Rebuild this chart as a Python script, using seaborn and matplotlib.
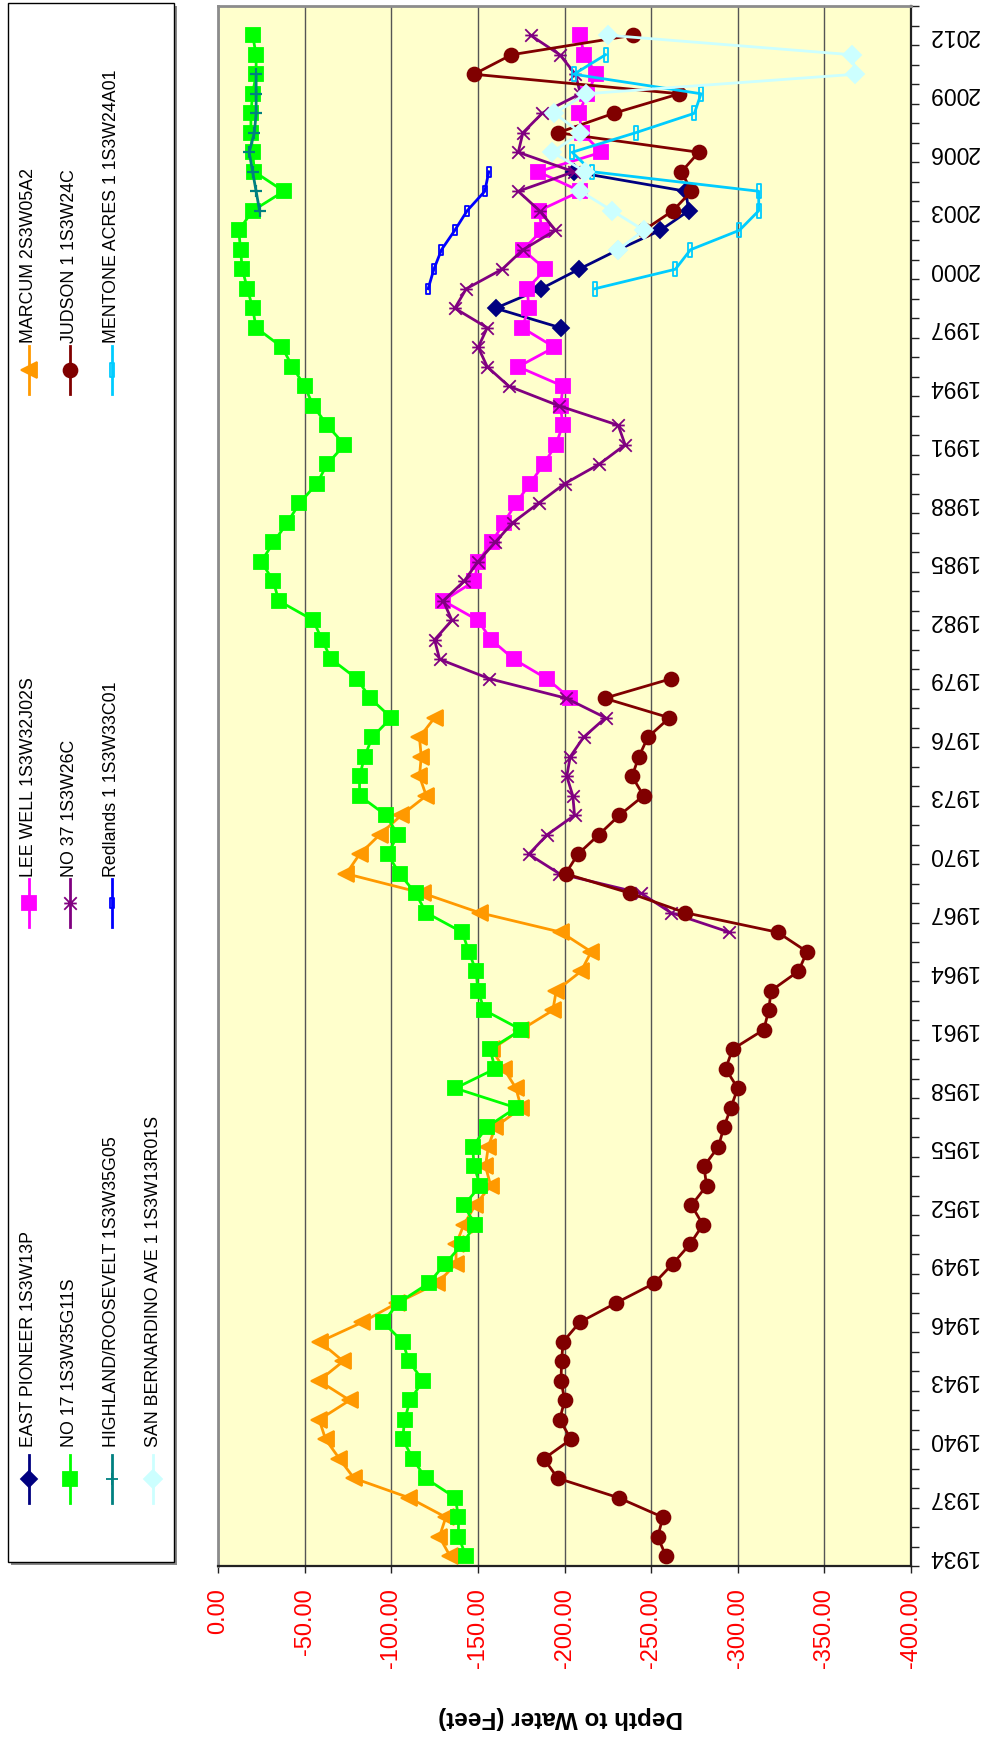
import numpy as np
import pandas as pd
import matplotlib
matplotlib.use("Agg")
import matplotlib.pyplot as plt
from matplotlib.path import Path
from matplotlib.patches import Rectangle
from matplotlib.lines import Line2D
import seaborn as sns

# ---------------- data (depth to water, feet; one value per year) ----------------
YEAR_TICKS = list(range(1934, 2013, 3))
DEPTH_TICKS = [0, -50, -100, -150, -200, -250, -300, -350, -400]

EAST_PIONEER_YEARS = list(range(1997, 2006))
EAST_PIONEER = [-197.7, -160.2, -186.5, -208.3, -231.0, -255.4, -271.7, -270.0, -205.4]

LEE_WELL_YEARS = list(range(1978, 2013))
LEE_WELL = [-203.3, -189.8, -170.8, -157.7, -150, -130, -148, -150, -158, -165,
            -172, -180, -188, -195, -199, -197.7, -199.2, -173.3, -194.2, -175.6,
            -179.4, -178.5, -189.0, -176.0, -187.1, -185.2, -209.2, -184.8, -221.3, -210.2,
            -208.3, -213.1, -218.3, -211.5, -208.7]

MARCUM_YEARS = list(range(1934, 1978))
MARCUM = [-134.0, -127.8, -131.5, -110.3, -78.5, -70.1, -62.1, -58.4, -76.0, -58.3,
          -72.3, -58.8, -83.3, -103.6, -126.6, -137.4, -137.4, -141.9, -148.4, -157.4,
          -154.4, -156, -160, -175, -172, -165, -158, -175, -193.3, -195.2,
          -209.6, -215.4, -198.1, -151.0, -118.3, -74.0, -81.7, -93.3, -105.8, -120.2,
          -116.3, -117.3, -116.3, -125.0]

NO17_YEARS = list(range(1934, 2013))
NO17 = [-143.2, -138.8, -138.8, -137.0, -119.8, -112.5, -106.6, -107.7, -110.9, -118.3,
        -110.2, -106.6, -95.3, -104.2, -121.6, -131.1, -141.0, -148.4, -141.9, -151.4,
        -147.8, -147, -155, -172, -137, -160, -157, -175, -153.8, -150.0,
        -149.0, -144.8, -141.0, -120.2, -114.0, -104.8, -98.0, -103.8, -97.0, -81.7,
        -81.7, -84.6, -89.0, -100.0, -87.9, -80.2, -65.4, -60, -55, -35,
        -32, -25, -32, -40, -47, -57, -63, -73, -63, -55,
        -50, -43, -37, -22, -20, -17, -14, -13, -12, -20,
        -38, -21, -20, -19, -19, -20, -22, -22, -20]

NO37_YEARS = list(range(1966, 2013))
NO37 = [-295.2, -261.5, -244.2, -197.1, -179.4, -190.0, -205.8, -204.8, -201.3, -203.3,
        -211.0, -223.7, -201.0, -156.7, -127.9, -125.0, -135, -130, -142, -150,
        -160, -170, -185, -200, -220, -235, -231, -196.7, -167.9, -155.4,
        -150.2, -155.4, -136.7, -143.3, -164.0, -176.0, -194.8, -185.6, -173.3, -205.4,
        -173.3, -176.0, -187.1, -209.2, -206.3, -197.3, -180.4]

JUDSON_YEARS = list(range(1934, 1980)) + list(range(2002, 2013))
JUDSON = [-258.6, -253.8, -256.8, -231.2, -196.1, -188.1, -203.8, -197.2, -200.1, -198.0,
          -198.3, -199.2, -208.8, -230.0, -251.8, -262.5, -272.4, -279.9, -273.3, -282.0,
          -280.5, -288.8, -292, -296, -300, -293, -297, -315, -317.9, -319.2,
          -335, -340, -323, -269.8, -237.9, -200.6, -207.7, -219.8, -231.7, -245.6,
          -239.0, -242.9, -248.1, -260.6, -223.1, -261.5,
          -245.8, -262.5, -273.3, -267.5, -277.5, -196.3, -228.5, -266.3, -147.7, -169.4,
          -239.4]

HIGHLAND_YEARS = list(range(2003, 2011))
HIGHLAND = [-24, -22, -20, -18, -21, -22, -22, -22]

REDLANDS_YEARS = list(range(1999, 2006))
REDLANDS = [-121.3, -124.6, -129.0, -136.7, -143.8, -154.0, -156.3]

MENTONE_YEARS = list(range(1999, 2012))
MENTONE = [-217.5, -264.0, -272.7, -301.0, -312.1, -312.1, -216.0, -204.4, -241.0, -275.0,
           -278.8, -205.4, -223.7]

SAN_BERN_YEARS = list(range(2001, 2013))
SAN_BERN = [-231.0, -245.8, -227.5, -209.2, -212.1, -192.9, -209.2, -194.2, -212.5, -367.9,
            -366.0, -225.2]

# ---------------- styling ----------------
plt.rcParams['font.family'] = ['Liberation Sans', 'DejaVu Sans']

ASTER = Path([(-1, -1), (1, 1), (-1, 1), (1, -1), (-1, 0), (1, 0)],
             [Path.MOVETO, Path.LINETO, Path.MOVETO, Path.LINETO, Path.MOVETO, Path.LINETO])
BAR = Path([(-0.32, -1), (0.32, -1), (0.32, 1), (-0.32, 1), (-0.32, -1)],
           [Path.MOVETO, Path.LINETO, Path.LINETO, Path.LINETO, Path.CLOSEPOLY])

series = [
    # name, years, values, color, marker, size, facecolor
    ("EAST PIONEER 1S3W13P", EAST_PIONEER_YEARS, EAST_PIONEER, "#000080", "D", 8.5, None),
    ("LEE WELL 1S3W32J02S", LEE_WELL_YEARS, LEE_WELL, "#FF00FF", "s", 10.5, None),
    ("MARCUM 2S3W05A2", MARCUM_YEARS, MARCUM, "#FF9900", "<", 11, None),
    ("NO 17 1S3W35G11S", NO17_YEARS, NO17, "#00FF00", "s", 10, None),
    ("NO 37 1S3W26C", NO37_YEARS, NO37, "#800080", ASTER, 9, None),
    ("JUDSON 1 1S3W24C", JUDSON_YEARS, JUDSON, "#800000", "o", 10, None),
    ("HIGHLAND/ROOSEVELT 1S3W35G05", HIGHLAND_YEARS, HIGHLAND, "#008080", "+", 8, None),
    ("Redlands 1 1S3W33C01", REDLANDS_YEARS, REDLANDS, "#0000FF", BAR, 7, "none"),
    ("MENTONE ACRES 1 1S3W24A01", MENTONE_YEARS, MENTONE, "#00CCFF", BAR, 10, "none"),
    ("SAN BERNARDINO AVE 1 1S3W13R01S", SAN_BERN_YEARS, SAN_BERN, "#CCFFFF", "D", 9, None),
]


def to_frame(years, vals):
    yrs = np.array(years)
    seg = np.concatenate([[0], np.cumsum(np.diff(yrs) > 1)])
    return pd.DataFrame({"year": yrs, "depth": np.array(vals, dtype=float), "seg": seg})


W, H = 992, 1738
fig = plt.figure(figsize=(W / 100, H / 100), dpi=100)
fig.patch.set_facecolor("white")

L, R, T, B = 218, 911, 6, 1566
ax = fig.add_axes([L / W, 1 - B / H, (R - L) / W, (B - T) / H])
ax.set_facecolor("#FFFFCC")

for name, yrs, vals, col, mk, ms, fc in series:
    df = to_frame(yrs, vals)
    kw = dict(markeredgecolor=col, markeredgewidth=1.3)
    kw["markerfacecolor"] = col if fc is None else fc
    if mk == "+":
        kw["markeredgewidth"] = 1.6
    sns.lineplot(data=df, x="depth", y="year", units="seg", estimator=None,
                 orient="y", sort=True, color=col, marker=mk, markersize=ms,
                 linewidth=2.0, ax=ax, legend=False, **kw)

ax.set_xlim(0, -400)
ax.set_ylim(1933.5, 2013.5)
ax.set_xlabel("")
ax.set_ylabel("")

ax.set_xticks(DEPTH_TICKS)
ax.set_xticklabels([f"{v:.2f}" for v in DEPTH_TICKS], rotation=90, color="red",
                   fontsize=17)
ax.tick_params(axis="x", direction="out", length=5, width=1.0, color="#222222", pad=11)
ax.grid(axis="x", color="#555555", linewidth=1.0)
ax.grid(axis="y", visible=False)
ax.set_axisbelow(True)

ax.yaxis.tick_right()
ax.set_yticks(YEAR_TICKS)
ax.set_yticklabels([str(y) for y in YEAR_TICKS], rotation=180, fontsize=16.5,
                   va="center", ha="left")
ax.set_yticks(np.arange(1933.5, 2014.0, 1.0), minor=True)
ax.tick_params(axis="y", which="major", length=0, pad=12, right=True, left=False)
ax.tick_params(axis="y", which="minor", length=6, width=1.0, color="#222222",
               direction="out", right=True, left=False)

for s in ("top", "left"):
    ax.spines[s].set_color("#8c8c8c")
    ax.spines[s].set_linewidth(2.0)
for s in ("bottom", "right"):
    ax.spines[s].set_color("#222222")
    ax.spines[s].set_linewidth(1.6)

fig.text(561 / W, 1 - 1718 / H, "Depth to Water (Feet)", rotation=180,
         ha="center", va="center", fontsize=17.5, fontweight="bold")

# ---------------- legend (rotated) ----------------
lax = fig.add_axes([0, 0, 1, 1])
lax.set_xlim(0, W)
lax.set_ylim(H, 0)
lax.axis("off")
lax.add_patch(Rectangle((11, 6), 166, 1559, facecolor="#888888", edgecolor="none"))
lax.add_patch(Rectangle((8, 3), 166, 1559, facecolor="white", edgecolor="black",
                        linewidth=1.0))

cols_x = [29, 70, 112, 153]
groups = [(1479, 1447), (903, 877), (370, 343)]  # (marker y, text bottom y)
layout = [(0, 0), (1, 0), (2, 0), (0, 1), (1, 1), (2, 1), (0, 2), (1, 2), (2, 2), (0, 3)]
for (name, yrs, vals, col, mk, ms, fc), (g, c) in zip(series, layout):
    my, ty = groups[g]
    x = cols_x[c]
    lax.add_line(Line2D([x, x], [my - 24, my + 24], color=col, linewidth=2.0))
    mfc = col if fc is None else fc
    lax.add_line(Line2D([x], [my], color=col, marker=mk, markersize=ms,
                        markerfacecolor=mfc, markeredgecolor=col, markeredgewidth=1.3))
    lax.text(x, ty, name, rotation=90, ha="center", va="bottom", fontsize=12.8,
             color="black")

fig.savefig("out.png", dpi=100)
